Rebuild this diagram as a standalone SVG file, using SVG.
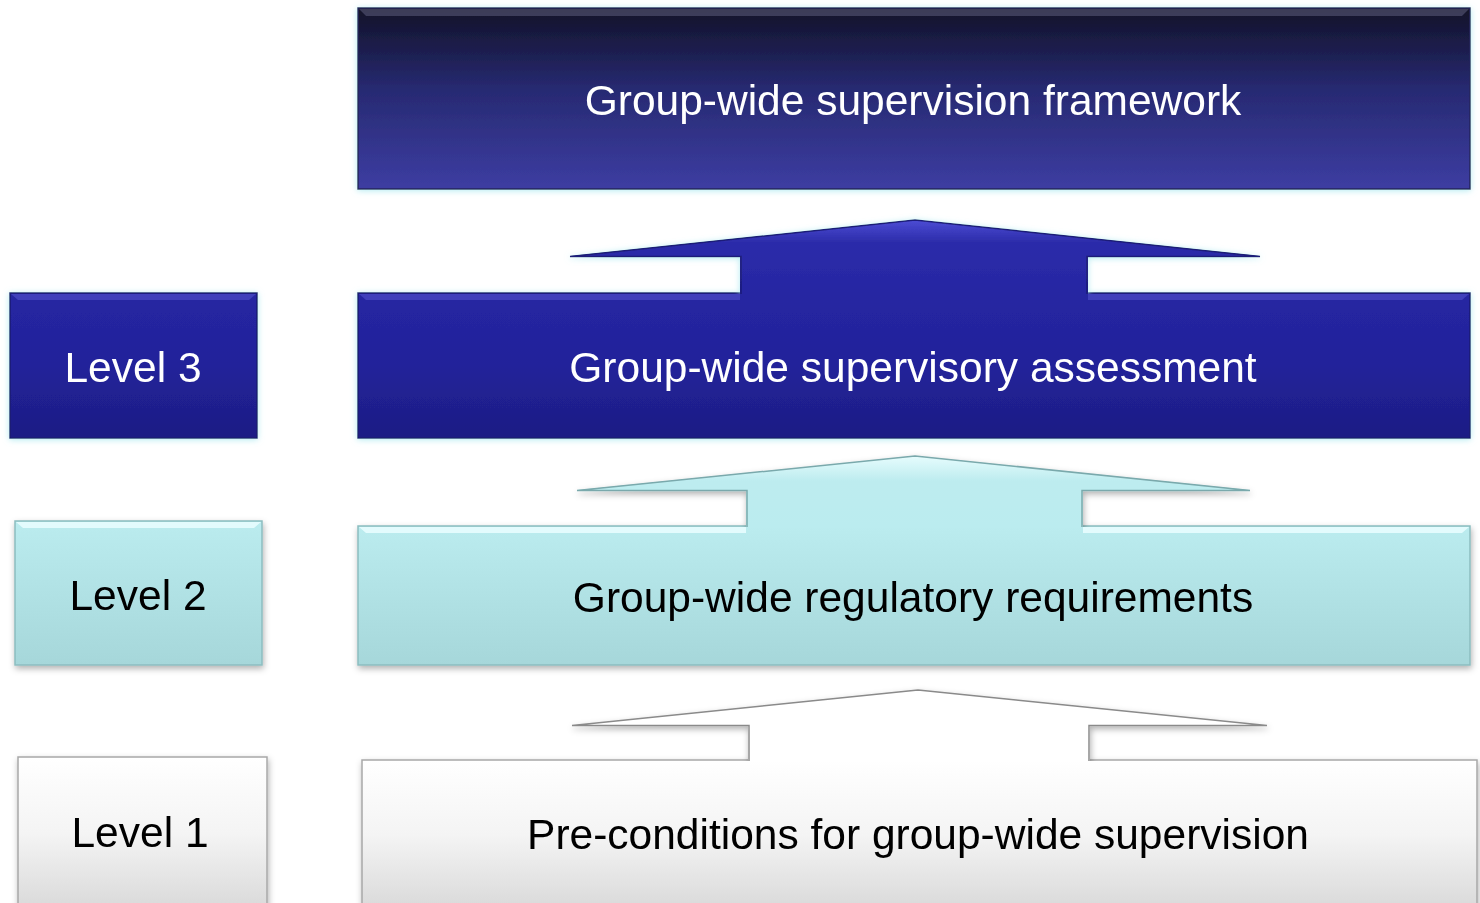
<svg xmlns="http://www.w3.org/2000/svg" width="1480" height="903" viewBox="0 0 1480 903">
<defs>
<linearGradient id="gTop" x1="0" y1="0" x2="0" y2="1">
<stop offset="0" stop-color="#121228"/>
<stop offset="0.45" stop-color="#272a72"/>
<stop offset="1" stop-color="#3d3da2"/>
</linearGradient>
<linearGradient id="gL3" x1="0" y1="0" x2="0" y2="1">
<stop offset="0" stop-color="#2626a2"/>
<stop offset="0.5" stop-color="#22229a"/>
<stop offset="1" stop-color="#1d1d84"/>
</linearGradient>
<linearGradient id="gL2" x1="0" y1="0" x2="0" y2="1">
<stop offset="0" stop-color="#bbecef"/>
<stop offset="1" stop-color="#a6d7da"/>
</linearGradient>
<linearGradient id="gL1" x1="0" y1="0" x2="0" y2="1">
<stop offset="0" stop-color="#ffffff"/>
<stop offset="0.5" stop-color="#f4f4f4"/>
<stop offset="1" stop-color="#d9d9d9"/>
</linearGradient>
<linearGradient id="gA3" gradientUnits="userSpaceOnUse" x1="0" y1="220" x2="0" y2="294">
<stop offset="0" stop-color="#4c4cd4"/>
<stop offset="0.3" stop-color="#2c2caa"/>
<stop offset="1" stop-color="#2626a2"/>
</linearGradient>
<linearGradient id="gA2" gradientUnits="userSpaceOnUse" x1="0" y1="456" x2="0" y2="527">
<stop offset="0" stop-color="#e6fcfd"/>
<stop offset="0.35" stop-color="#bdecef"/>
<stop offset="1" stop-color="#bbecef"/>
</linearGradient>
<linearGradient id="gA1" x1="0" y1="0" x2="0" y2="1">
<stop offset="0" stop-color="#ffffff"/>
<stop offset="1" stop-color="#ffffff"/>
</linearGradient>
<clipPath id="c3"><rect x="0" y="0" width="1480" height="294"/></clipPath>
<clipPath id="c2"><rect x="0" y="0" width="1480" height="527"/></clipPath>
<clipPath id="c1"><rect x="0" y="0" width="1480" height="761"/></clipPath>
<filter id="glow" x="-5%" y="-20%" width="110%" height="140%">
<feGaussianBlur in="SourceAlpha" stdDeviation="3"/>
<feOffset dx="0" dy="1" result="b"/>
<feFlood flood-color="#9fe6ee" flood-opacity="0.8"/>
<feComposite in2="b" operator="in" result="g"/>
<feMerge><feMergeNode in="g"/><feMergeNode in="SourceGraphic"/></feMerge>
</filter>
<filter id="shadow" x="-5%" y="-20%" width="110%" height="140%">
<feGaussianBlur in="SourceAlpha" stdDeviation="3"/>
<feOffset dx="1" dy="3" result="b"/>
<feFlood flood-color="#000000" flood-opacity="0.3"/>
<feComposite in2="b" operator="in" result="g"/>
<feMerge><feMergeNode in="g"/><feMergeNode in="SourceGraphic"/></feMerge>
</filter>
</defs>
<style>
.t{font-family:"Liberation Sans",Arial,sans-serif;font-size:42.5px;text-anchor:middle}
.w{fill:#ffffff}
.k{fill:#000000}
</style>

<g id="node-framework" filter="url(#glow)">
<rect x="358" y="8" width="1112" height="181" fill="url(#gTop)" stroke="#26265c" stroke-width="1.5"/>
<path d="M359,9 H1469 L1462,16 H366 Z" fill="#5a5a78" opacity="0.6"/>
<text class="t w" x="913" y="115">Group-wide supervision framework</text>
</g>

<g id="node-assessment" filter="url(#glow)">
<rect x="358" y="293" width="1112" height="145" fill="url(#gL3)"/>
<path d="M359,294 H740 V300 H366 Z" fill="#4646c2" opacity="0.8"/>
<path d="M1088,294 H1469 L1462,300 H1088 Z" fill="#4646c2" opacity="0.8"/>
<path d="M740,293 H358 V438 H1470 V293 H1088" fill="none" stroke="#1a1a70" stroke-width="1.5"/>
<text class="t w" x="913" y="382">Group-wide supervisory assessment</text>
</g>

<g id="node-level3" filter="url(#glow)">
<rect x="10" y="293" width="247" height="145" fill="url(#gL3)" stroke="#1a1a70" stroke-width="1.5"/>
<path d="M11,294 H256 L249,300 H18 Z" fill="#4646c2" opacity="0.8"/>
<text class="t w" x="133" y="382">Level 3</text>
</g>

<g id="node-requirements" filter="url(#shadow)">
<rect x="358" y="526" width="1112" height="139" fill="url(#gL2)"/>
<path d="M359,527 H746 V533 H366 Z" fill="#e8fdfe" opacity="0.9"/>
<path d="M1083,527 H1469 L1462,533 H1083 Z" fill="#e8fdfe" opacity="0.9"/>
<path d="M746,526 H358 V665 H1470 V526 H1083" fill="none" stroke="#8cbdc0" stroke-width="1.5"/>
<text class="t k" x="913" y="612">Group-wide regulatory requirements</text>
</g>

<g id="node-level2" filter="url(#shadow)">
<rect x="15" y="521" width="247" height="144" fill="url(#gL2)" stroke="#8cbdc0" stroke-width="1.5"/>
<path d="M16,522 H261 L254,528 H23 Z" fill="#e8fdfe" opacity="0.9"/>
<text class="t k" x="138" y="610">Level 2</text>
</g>

<g id="node-preconditions" filter="url(#shadow)">
<rect x="362" y="760" width="1115" height="150" fill="url(#gL1)"/>
<path d="M748,760 H362 V910 H1477 V760 H1090" fill="none" stroke="#a8a8a8" stroke-width="1.5"/>
<text class="t k" x="918" y="849">Pre-conditions for group-wide supervision</text>
</g>

<g id="node-level1" filter="url(#shadow)">
<rect x="18" y="757" width="249" height="153" fill="url(#gL1)" stroke="#a8a8a8" stroke-width="1.5"/>
<text class="t k" x="140" y="847">Level 1</text>
</g>

<g id="connectors">
<g id="arrow-l3" clip-path="url(#c3)">
<g filter="url(#glow)">
<path fill="url(#gA3)" d="M570,256 L915,220 L1260,256 L1088,256 L1088,296 L740,296 L740,256 Z"/>
<path fill="none" stroke="#1e1e78" stroke-width="1.5" d="M741,294 V256.5 H570 L915,220 L1260,256.5 H1087 V294"/>
</g>
</g>
<g id="arrow-l2" clip-path="url(#c2)">
<g filter="url(#shadow)">
<path fill="url(#gA2)" d="M577,490 L915,456 L1250,490 L1083,490 L1083,529 L746,529 L746,490 Z"/>
<path fill="none" stroke="#7aa9ac" stroke-width="1.5" d="M747,527 V490.5 H577 L915,456 L1250,490.5 H1082 V527"/>
</g>
</g>
<g id="arrow-l1" clip-path="url(#c1)">
<g filter="url(#shadow)">
<path fill="url(#gA1)" d="M572,725 L918,690 L1267,725 L1090,725 L1090,763 L748,763 L748,725 Z"/>
<path fill="none" stroke="#8a8a8a" stroke-width="1.5" d="M749,761 V725.5 H572 L918,690 L1267,725.5 H1089 V761"/>
</g>
</g>
</g>
</svg>
